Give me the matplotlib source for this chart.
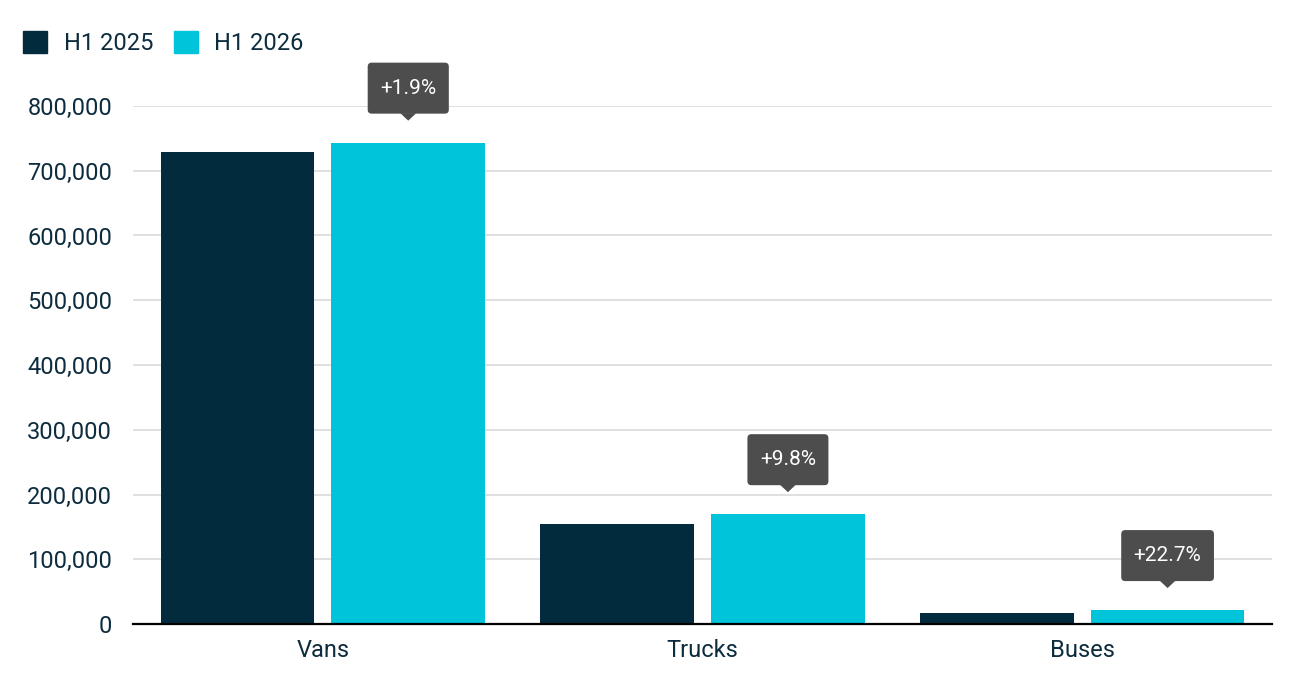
import matplotlib.pyplot as plt
from matplotlib.patches import Patch, FancyBboxPatch, Polygon
from matplotlib.transforms import Affine2D, ScaledTranslation
from matplotlib.ticker import FuncFormatter
import numpy as np

categories = ['Vans', 'Trucks', 'Buses']
h1_2025 = [729500, 154500, 17500]
h1_2026 = [743400, 169600, 21500]
changes = ['+1.9%', '+9.8%', '+22.7%']
series_names = ['H1 2025', 'H1 2026']

DARK = '#022b3e'
CYAN = '#00c4d9'
TEXT = '#0d2c3e'
TIP = '#4d4d4d'

plt.rcParams['font.family'] = ['Roboto', 'DejaVu Sans']

fig = plt.figure(figsize=(13.02, 6.92), dpi=100)
ax = fig.add_axes([133 / 1302, 1 - 624 / 692, (1272 - 133) / 1302, (624 - 106) / 692])

x = np.arange(len(categories))
w = 0.405
off = 0.225
ax.bar(x - off, h1_2025, width=w, color=DARK, zorder=3)
ax.bar(x + off, h1_2026, width=w, color=CYAN, zorder=3)

ax.set_xlim(-0.5, 2.5)
ax.set_ylim(0, 800000)
ax.set_yticks(range(0, 800001, 100000))
ax.yaxis.set_major_formatter(FuncFormatter(lambda v, p: f'{int(v):,}'))
ax.set_xticks(x)
ax.set_xticklabels(categories)
ax.tick_params(axis='both', length=0, labelsize=17, colors=TEXT)
ax.tick_params(axis='y', pad=15)
ax.tick_params(axis='x', pad=11)
ax.grid(axis='y', color='#dddddd', linewidth=1.3, zorder=0)
for s in ['top', 'right', 'left']:
    ax.spines[s].set_visible(False)
ax.spines['bottom'].set_color('black')
ax.spines['bottom'].set_linewidth(1.6)
ax.spines['bottom'].set_zorder(4)

# change callouts above the H1 2026 bars (sizes in pixels around the bar top)
fig.canvas.draw()
renderer = fig.canvas.get_renderer()
for xi, val, lab in zip(x + off, h1_2026, changes):
    anchor = ScaledTranslation(xi, val, ax.transData)
    t = ax.text(0, 54.5, lab, transform=Affine2D() + anchor, ha='center', va='center',
                color='white', fontsize=15, clip_on=False, zorder=7)
    tw = t.get_window_extent(renderer).width
    bw = tw + 25
    box = FancyBboxPatch((-bw / 2, 29), bw, 51, boxstyle='round,pad=0,rounding_size=4',
                         fc=TIP, ec='none', transform=Affine2D() + anchor,
                         clip_on=False, zorder=6)
    ax.add_patch(box)
    tri = Polygon([(-8, 29.5), (8, 29.5), (0, 22)], closed=True, fc=TIP, ec='none',
                  transform=Affine2D() + anchor, clip_on=False, zorder=6)
    ax.add_patch(tri)

handles = [Patch(color=DARK), Patch(color=CYAN)]
fig.legend(handles, series_names, loc='upper left', bbox_to_anchor=(14 / 1302, 1 - 22 / 692),
           ncol=2, frameon=False, fontsize=17, handlelength=1.0, handleheight=1.0,
           handletextpad=0.7, columnspacing=0.9, labelcolor=TEXT, borderaxespad=0)

fig.savefig('out.png', dpi=100)
